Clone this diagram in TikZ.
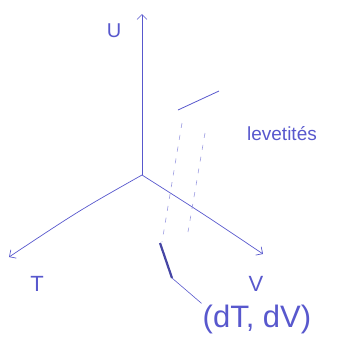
\documentclass[tikz,border=0pt]{standalone}
\usepackage{fontspec}
\setmainfont{Liberation Sans}
\usetikzlibrary{arrows.meta}
\definecolor{ink}{RGB}{88,88,205}
\tikzset{
  axis/.style={draw=ink, line width=0.7pt, -{Straight Barb[length=5pt,width=10pt]}},
  lbl/.style={text=ink, inner sep=1pt},
  hid/.style={draw=ink!60, line width=0.6pt, dash pattern=on 5pt off 7pt},
}
\begin{document}
\begin{tikzpicture}[x=1pt,y=-1pt]
\useasboundingbox (0,0) rectangle (344,349);
\coordinate (O) at (142,175);
\coordinate (Ue) at (142,14);
\coordinate (Te) at (9,257);
\coordinate (Ve) at (263,254);
\draw[axis] (O) -- (Ue);
\draw[axis] (O) .. controls (80,210) .. (Te);
\draw[axis] (O) .. controls (205,215) .. (Ve);
\node[lbl, font=\fontsize{20}{22}\selectfont] (U) at (114,31) {U};
\node[lbl, font=\fontsize{22}{24}\selectfont] (T) at (37,284) {T};
\node[lbl, font=\fontsize{22}{24}\selectfont] (V) at (256,284) {V};
\coordinate (s1) at (178,110);
\coordinate (s2) at (219,91);
\draw[ink, line width=0.8pt] (s1) -- (s2);
\node[lbl, font=\fontsize{19}{21}\selectfont] (lev) at (282,134) {levetités};
\coordinate (d1) at (182,123);
\coordinate (d2) at (162,242);
\coordinate (d3) at (205,133);
\coordinate (d4) at (188,232);
\draw[hid] (d1) -- (d2);
\draw[hid] (d3) -- (d4);
\coordinate (b1) at (160,243);
\coordinate (b2) at (172,278);
\draw[ink!80!black, line width=2.2pt] (b1) -- (b2);
\node[lbl, font=\fontsize{31}{33}\selectfont] (dd) at (257,319) {(dT, dV)};
\draw[ink, line width=0.6pt] (b2) -- (dd.north west);
\end{tikzpicture}
\end{document}
